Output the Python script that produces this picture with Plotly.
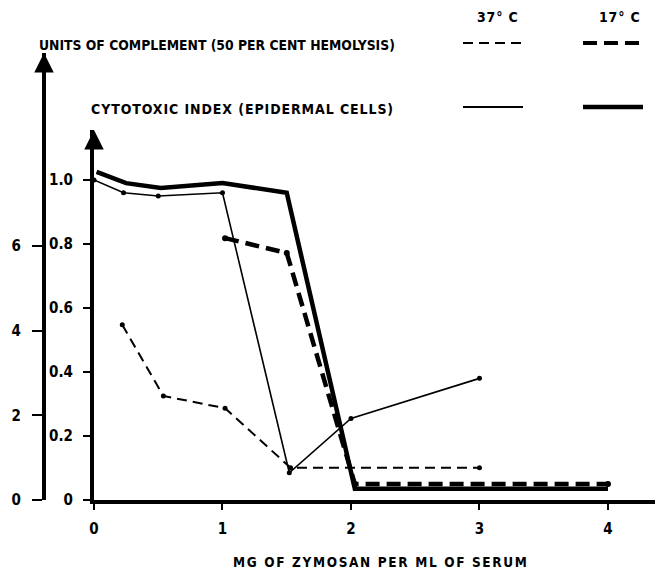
import plotly.graph_objects as go

# ---- data ----
zymosan_cyto_37 = [0.0, 0.23, 0.5, 1.0, 1.52, 2.0, 3.0]
cyto_index_37 = [1.0, 0.96, 0.95, 0.96, 0.085, 0.255, 0.38]

zymosan_cyto_17 = [0.02, 0.25, 0.52, 1.0, 1.5, 2.03, 4.0]
cyto_index_17 = [1.025, 0.99, 0.975, 0.99, 0.96, 0.035, 0.035]

zymosan_units_37 = [0.22, 0.54, 1.02, 1.53, 3.0]
complement_units_37 = [4.14, 2.46, 2.17, 0.76, 0.76]

zymosan_units_17 = [1.02, 1.5, 2.03, 4.0]
complement_units_17 = [6.19, 5.84, 0.38, 0.38]

x_ticks = [0, 1, 2, 3, 4]
x_tick_labels = ["0", "1", "2", "3", "4"]
cyto_ticks = [0, 0.2, 0.4, 0.6, 0.8, 1.0]
cyto_tick_labels = ["0", "0.2", "0.4", "0.6", "0.8", "1.0"]
units_ticks = [0, 2, 4, 6]
units_tick_labels = ["0", "2", "4", "6"]

FONT = "DejaVu Sans Condensed, DejaVu Sans, sans-serif"

def spaced(t, ls):
    return '<span style="letter-spacing:%spx">%s</span>' % (ls, t)

fig = go.Figure()

fig.add_trace(go.Scatter(x=zymosan_cyto_37, y=cyto_index_37, xaxis="x", yaxis="y",
                         mode="lines+markers", line=dict(color="black", width=1.6),
                         marker=dict(color="black", size=5), showlegend=False))
fig.add_trace(go.Scatter(x=zymosan_cyto_17, y=cyto_index_17, xaxis="x", yaxis="y",
                         mode="lines", line=dict(color="black", width=4.5),
                         showlegend=False))
fig.add_trace(go.Scatter(x=zymosan_units_37, y=complement_units_37, xaxis="x", yaxis="y2",
                         mode="lines+markers", line=dict(color="black", width=2, dash="10px,6px"),
                         marker=dict(color="black", size=5), showlegend=False))
fig.add_trace(go.Scatter(x=zymosan_units_17, y=complement_units_17, xaxis="x", yaxis="y2",
                         mode="lines+markers", line=dict(color="black", width=4.5, dash="14px,7px"),
                         marker=dict(color="black", size=6), showlegend=False))

W, H = 659, 578
ML, MR, MT, MB = 30, 4, 53, 78
PW, PH = W - ML - MR, H - MT - MB

def px(xp):
    return (xp - ML) / PW

def py(yp):
    return (H - MB - yp) / PH

tickfont = dict(family=FONT, size=15, color="black", weight="bold")

fig.update_layout(
    width=W, height=H,
    margin=dict(l=ML, r=MR, t=MT, b=MB, autoexpand=False),
    paper_bgcolor="white", plot_bgcolor="rgba(0,0,0,0)",
    showlegend=False,
    xaxis=dict(domain=[px(94), 1], range=[0, 4.366], anchor="y", automargin=False,
               tickvals=x_ticks, ticktext=x_tick_labels, ticks="outside",
               ticklen=6, tickwidth=1.5, tickcolor="black",
               showline=True, linewidth=4, linecolor="black",
               showgrid=False, zeroline=False, tickfont=tickfont,
               ticklabelstandoff=6),
    yaxis=dict(domain=[0, py(130)], range=[0, 1.156], anchor="x", automargin=False,
               tickvals=cyto_ticks, ticktext=cyto_tick_labels, ticks="outside",
               ticklen=7, tickwidth=1.5, tickcolor="black",
               showline=True, linewidth=4, linecolor="black",
               showgrid=False, zeroline=False, tickfont=tickfont,
               ticklabelstandoff=7),
    yaxis2=dict(domain=[0, 1], range=[0, 10.567], anchor="free", position=px(44),
                side="left", automargin=False,
                tickvals=units_ticks, ticktext=units_tick_labels, ticks="outside",
                ticklen=10, tickwidth=1.5, tickcolor="black",
                showline=True, linewidth=4, linecolor="black",
                showgrid=False, zeroline=False, tickfont=tickfont,
                ticklabelstandoff=8),
)

def afont(size):
    return dict(family=FONT, size=size, color="black", weight="bold")

annotations = [
    dict(text=spaced("UNITS OF COMPLEMENT (50 PER CENT HEMOLYSIS)", 0),
         x=px(37), y=py(45), xanchor="left", yanchor="middle", font=afont(13.8)),
    dict(text=spaced("CYTOTOXIC INDEX (EPIDERMAL CELLS)", 0.9),
         x=px(89), y=py(109), xanchor="left", yanchor="middle", font=afont(14)),
    dict(text=spaced("37° C", 0.8), x=px(497), y=py(17), xanchor="center", yanchor="middle", font=afont(14)),
    dict(text=spaced("17° C", 0.8), x=px(619), y=py(17), xanchor="center", yanchor="middle", font=afont(14)),
    dict(text=spaced("MG OF ZYMOSAN PER ML OF SERUM", 1.65),
         x=px(381), y=py(562), xanchor="center", yanchor="middle", font=afont(13.5)),
]
for a in annotations:
    a.update(xref="paper", yref="paper", showarrow=False)

# axis arrows
for xa, ya in [(44, 53), (94, 130)]:
    annotations.append(dict(text="", x=px(xa), y=py(ya), xref="paper", yref="paper",
                            ax=0, ay=14, showarrow=True, arrowhead=2, arrowsize=1.3,
                            arrowwidth=3, arrowcolor="black"))

fig.update_layout(annotations=annotations)

# legend samples
shapes = [
    dict(x0=px(463), x1=px(523), y0=py(43), y1=py(43), line=dict(color="black", width=2, dash="10px,6px")),
    dict(x0=px(583), x1=px(640), y0=py(43), y1=py(43), line=dict(color="black", width=4, dash="14px,7px")),
    dict(x0=px(463), x1=px(523), y0=py(107), y1=py(107), line=dict(color="black", width=1.8)),
    dict(x0=px(583), x1=px(643), y0=py(107), y1=py(107), line=dict(color="black", width=4.5)),
]
for s in shapes:
    s.update(type="line", xref="paper", yref="paper")
fig.update_layout(shapes=shapes)

fig.write_html("out.html", config={"displayModeBar": False},
               post_script="document.body.style.margin='0';")
